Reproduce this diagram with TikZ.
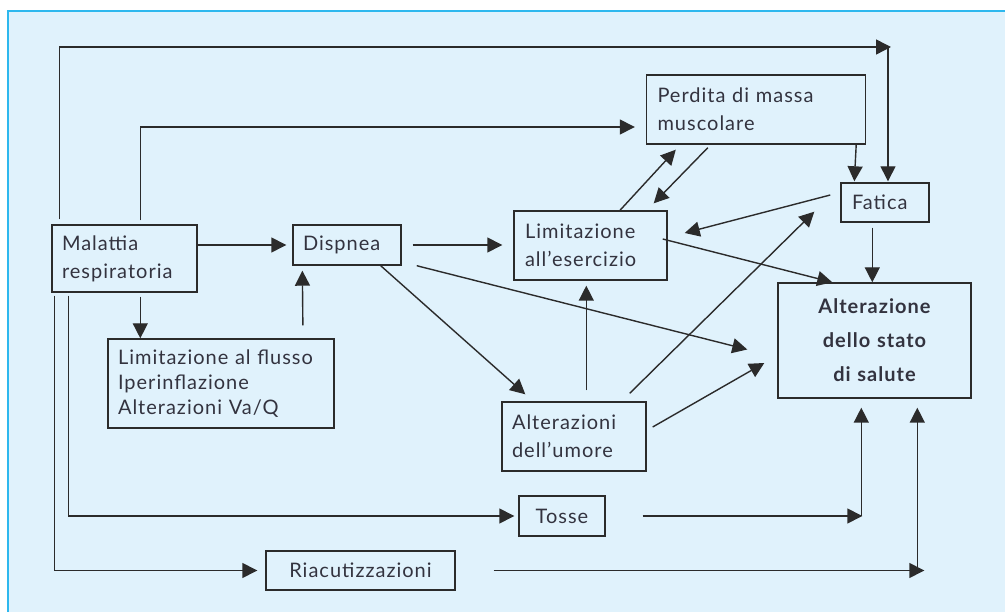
\documentclass[tikz,border=0pt]{standalone}
\usepackage{fontspec}
\setmainfont{Lato}[LetterSpace=5]
\usetikzlibrary{arrows.meta}
\definecolor{panel}{HTML}{E0F2FC}
\definecolor{frame}{HTML}{2EB8EE}
\definecolor{ink}{HTML}{2B2B2B}
\definecolor{txt}{HTML}{33333F}
\begin{document}
\begin{tikzpicture}[x=1pt, y=-1pt,
    box/.style={draw=ink, line width=1.4pt, text=txt, inner xsep=10pt, inner ysep=0pt,
      font=\fontsize{20}{28}\selectfont},
    arr/.style={draw=ink, line width=1.4pt, -{Triangle[length=15pt, width=15pt]}}]
    \useasboundingbox (0,0) rectangle (1005,612);
    \fill[panel] (8,11) rectangle (1005,612);
    \draw[frame, line width=2pt] (1005,11) -- (8,11) -- (8,612);
    % boxes
    \node[box, text width=125pt, align=left, minimum height=67pt] (mal) at (124.5,258.5) {Malattia\\respiratoria};
    \node[box, text width=88pt, align=left, minimum height=40pt] (disp) at (347,245) {Dispnea};
    \node[box, text width=206pt, align=left, minimum height=89pt, font=\fontsize{20}{25}\selectfont] (flusso) at (221,383.5) {Limitazione al flusso\\Iperinflazione\\Alterazioni Va/Q};
    \node[box, text width=197pt, inner xsep=11pt, align=left, minimum height=69pt] (perd) at (756,109.5) {Perdita di massa\\muscolare};
    \node[box, text width=66pt, inner xsep=11pt, align=left, minimum height=39pt] (fat) at (885,202.5) {Fatica};
    \node[box, text width=131pt, inner xsep=11pt, align=left, minimum height=69pt] (lim) at (590.5,245.5) {Limitazione\\all’esercizio};
    \node[box, text width=173pt, align=center, minimum height=115pt, font=\bfseries\fontsize{20}{34}\selectfont] (salute) at (874.5,340.5) {Alterazione\\dello stato\\di salute};
    \node[box, text width=124pt, align=left, minimum height=69pt] (umore) at (574,436.5) {Alterazioni\\dell’umore};
    \node[box, text width=66pt, align=center, minimum height=40pt] (tosse) at (562,516) {Tosse};
    \node[box, text width=169pt, align=center, minimum height=39pt] (riac) at (360.5,570.5) {Riacutizzazioni};
    % helper points
    \coordinate (top) at (888,47);
    \coordinate (ts) at ([xshift=84pt]salute.south west);
    \coordinate (rs) at ([xshift=140pt]salute.south west);
    % connectors
    \draw[arr, shorten >=-3pt] ([xshift=8pt,yshift=5pt]mal.north west) |- (top);
    \draw[arr, shorten >=1pt] (top) -- (top |- fat.north);
    \draw[arr] ([xshift=89pt,yshift=4pt]mal.north west) |- ([xshift=-11pt,yshift=-17.5pt]perd.west);
    \draw[arr, shorten >=6pt] (mal.east |- disp.west) -- (disp.west);
    \draw[arr, shorten <=11pt, shorten >=11pt] (disp.east) -- (disp.east -| lim.west);
    \draw[arr] ([xshift=15pt]disp.south east) -- ([xshift=-30pt,yshift=-9pt]salute.west);
    \draw[arr] ([xshift=-21pt]disp.south east) -- ([xshift=24pt,yshift=7pt]umore.north west);
    \draw[arr, shorten <=13pt, shorten >=5pt] ([xshift=82pt]flusso.north) -- ([xshift=10pt]disp.south west);
    \draw[arr, shorten <=4pt] ([xshift=89pt]mal.south west) -- ([xshift=33pt]flusso.north west);
    \draw[arr, shorten <=3pt, shorten >=8pt] ([xshift=3pt]mal.south west) |- (riac.west);
    \draw[arr, shorten <=3pt, shorten >=4pt] ([xshift=17pt]mal.south west) |- (tosse.west);
    \draw[arr, shorten <=37pt, shorten >=-1pt] (tosse.east) -- (tosse.east -| ts);
    \draw[arr, shorten >=9pt] (tosse.east -| ts) -- (ts);
    \draw[arr, shorten <=38pt, shorten >=-7pt] (riac.east) -- (riac.east -| rs);
    \draw[arr, shorten >=9pt] (riac.east -| rs) -- (rs);
    \draw[arr, shorten <=11pt, shorten >=5pt] ([xshift=85pt]umore.north west) -- ([xshift=73pt]lim.south west);
    \draw[arr] ([xshift=-17pt,yshift=8pt]umore.north east) -- ([xshift=-26pt,yshift=11pt]fat.south west);
    \draw[arr] ([xshift=6pt,yshift=9.5pt]umore.east) -- ([xshift=-13pt,yshift=-22.5pt]salute.west);
    \draw[arr] ([xshift=29.5pt]lim.north) -- ([xshift=30pt,yshift=-5pt]perd.south west);
    \draw[arr] ([xshift=62pt,yshift=-3pt]perd.south west) -- ([xshift=-14pt,yshift=7pt]lim.north east);
    \draw[arr, shorten >=1pt] ([xshift=-10pt]perd.south east) -- ([xshift=14pt]fat.north west);
    \draw[arr] ([xshift=-10pt,yshift=7.5pt]fat.west) -- ([xshift=17pt,yshift=12.5pt]lim.east);
    \draw[arr] ([xshift=-5pt,yshift=6.5pt]lim.east) -- ([xshift=55pt]salute.north west);
    \draw[arr, shorten <=5pt] ([xshift=32pt]fat.south west) -- ([xshift=95pt]salute.north west);
\end{tikzpicture}
\end{document}
